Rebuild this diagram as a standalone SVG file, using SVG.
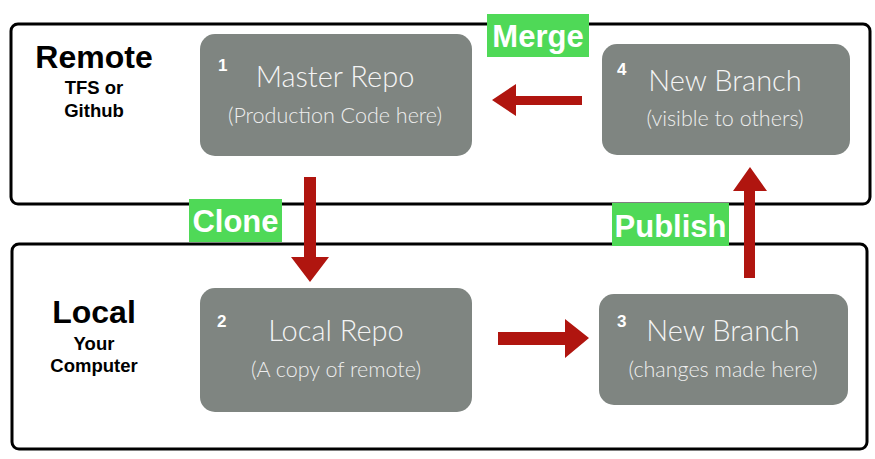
<svg xmlns="http://www.w3.org/2000/svg" width="875" height="459" viewBox="0 0 875 459">
<style>
.area{fill:#fff;stroke:#000;stroke-width:3}
.node{fill:#7f8581}
.t1{font-family:Lato,"Open Sans",sans-serif;font-weight:300;font-size:29px;fill:#f4f4f4;text-anchor:middle}
.t2{font-family:Lato,"Open Sans",sans-serif;font-weight:300;font-size:21.5px;fill:#eeeeee;text-anchor:middle}
.num{font-family:"Liberation Sans",Arial,sans-serif;font-weight:bold;font-size:17px;fill:#fff}
.big{font-family:"Liberation Sans",Arial,sans-serif;font-weight:bold;font-size:32px;fill:#000;text-anchor:middle}
.sub{font-family:"Liberation Sans",Arial,sans-serif;font-weight:bold;font-size:18.5px;fill:#000;text-anchor:middle}
.lbl{fill:#4fd957}
.lt{font-family:"Liberation Sans",Arial,sans-serif;font-weight:bold;font-size:31px;fill:#fff;text-anchor:middle}
.arr{fill:#b0150f}
</style>
<rect width="875" height="459" fill="#fff"/>
<g id="remote">
<rect class="area" x="11" y="24" width="859" height="180" rx="7"/>
<text class="big" x="94" y="68">Remote</text>
<text class="sub" x="94" y="94">TFS or</text>
<text class="sub" x="94" y="117">Github</text>
</g>
<g id="local">
<rect class="area" x="12" y="244" width="855" height="205" rx="7"/>
<text class="big" x="94" y="323">Local</text>
<text class="sub" x="94" y="350">Your</text>
<text class="sub" x="94" y="372">Computer</text>
</g>
<g id="node1">
<rect class="node" x="200" y="34" width="272" height="122" rx="15"/>
<text class="num" x="218" y="71">1</text>
<text class="t1" x="335" y="87">Master Repo</text>
<text class="t2" x="335" y="123">(Production Code here)</text>
</g>
<g id="node4">
<rect class="node" x="602" y="44" width="248" height="111" rx="15"/>
<text class="num" x="617" y="75">4</text>
<text class="t1" x="725" y="91">New Branch</text>
<text class="t2" x="725" y="126">(visible to others)</text>
</g>
<g id="node2">
<rect class="node" x="200" y="288" width="272" height="124" rx="15"/>
<text class="num" x="217" y="327">2</text>
<text class="t1" x="336" y="341">Local Repo</text>
<text class="t2" x="336" y="377">(A copy of remote)</text>
</g>
<g id="node3">
<rect class="node" x="599" y="294" width="249" height="111" rx="15"/>
<text class="num" x="617" y="327">3</text>
<text class="t1" x="723" y="341">New Branch</text>
<text class="t2" x="723" y="377">(changes made here)</text>
</g>
<g id="connectors">
<polygon class="arr" points="304,177 316,177 316,257 329,257 310,282 291,257 304,257"/>
<polygon class="arr" points="582,96 582,105 516,105 516,116 492,100 516,84 516,96"/>
<polygon class="arr" points="744,278 755,278 755,191 767,191 750,167 733,191 744,191"/>
<polygon class="arr" points="498,332 565,332 565,319 589,338 565,358 565,345 498,345"/>
</g>
<g id="labels">
<rect class="lbl" x="189" y="199" width="93" height="43"/>
<text class="lt" x="235.5" y="232">Clone</text>
<rect class="lbl" x="487" y="14" width="102" height="43"/>
<text class="lt" x="538" y="47">Merge</text>
<rect class="lbl" x="612" y="203" width="117" height="43"/>
<text class="lt" x="670.5" y="237">Publish</text>
</g>
</svg>
